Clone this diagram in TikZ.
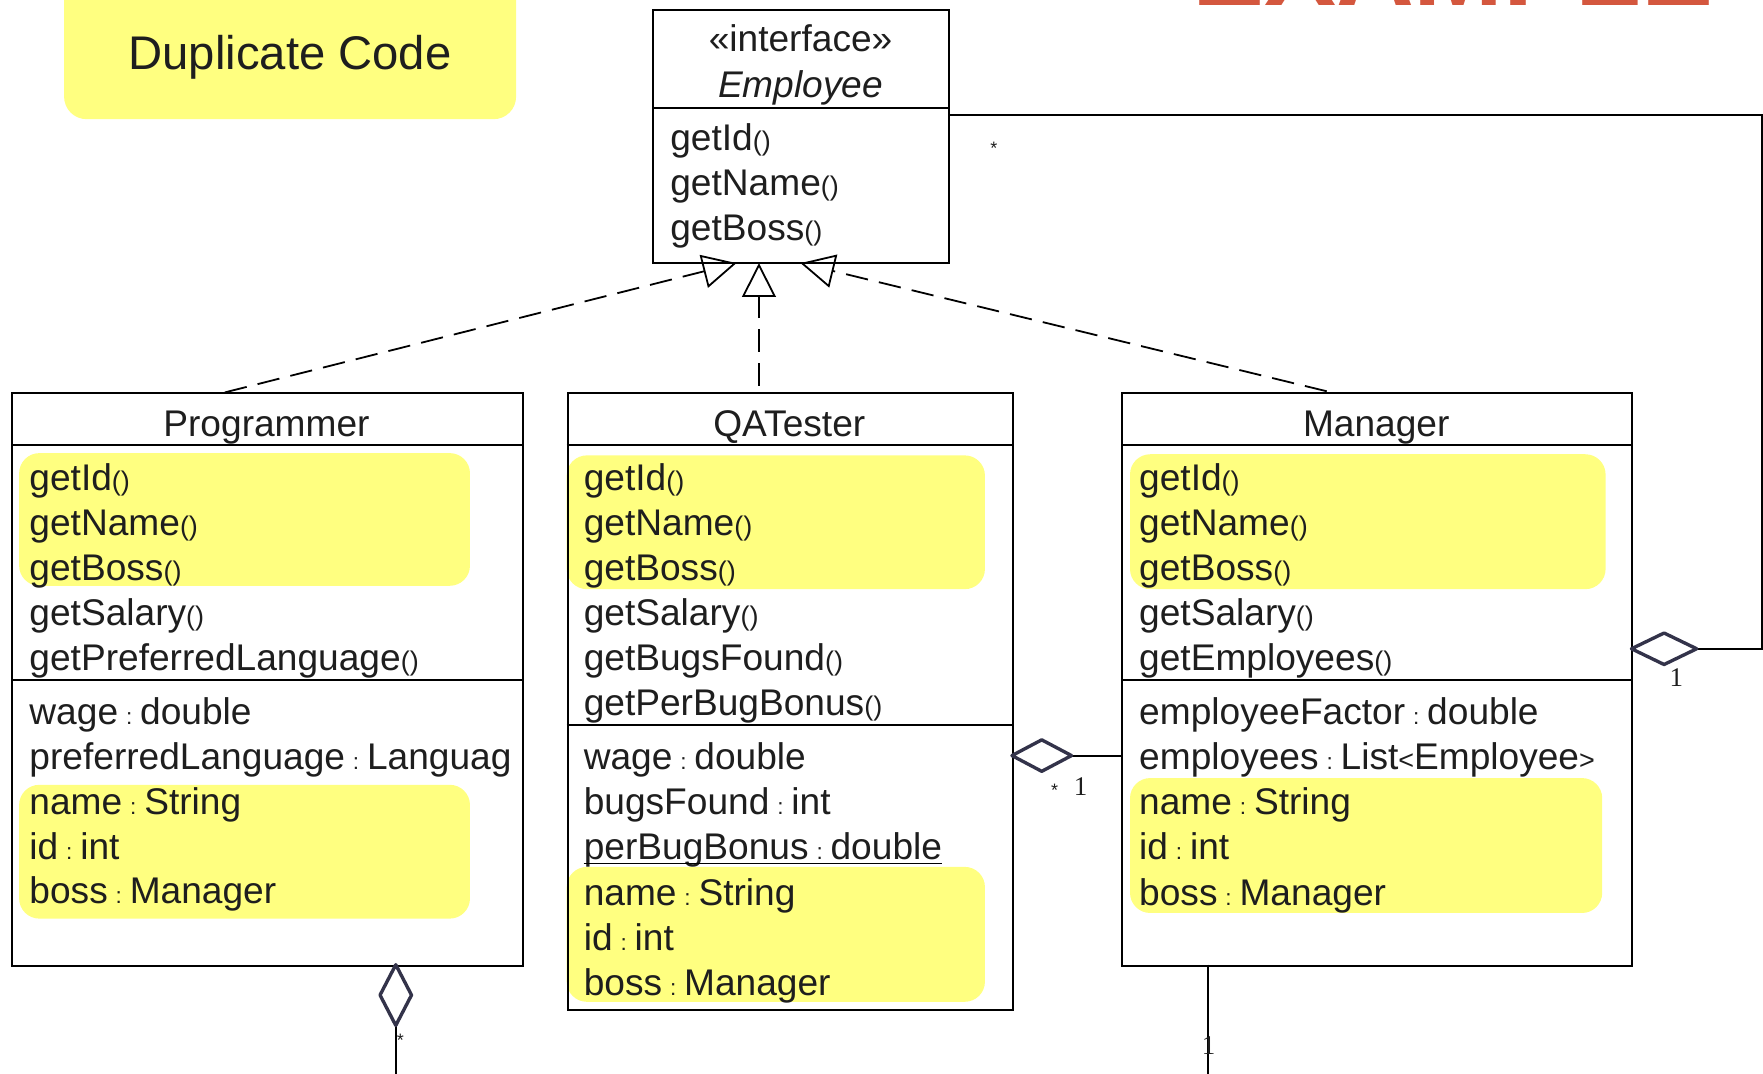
\documentclass[tikz,border=0pt]{standalone}
\usepackage{fontspec}
\setmainfont{Liberation Sans}
\newfontfamily\serifone{Liberation Serif}
\usetikzlibrary{arrows.meta}
\definecolor{hl}{HTML}{FFFF80}
\definecolor{ink}{HTML}{1E1E1E}
\definecolor{dia}{HTML}{33334A}
\definecolor{titlered}{HTML}{D4573E}
\newcommand\pp{{\fontsize{24}{24}\selectfont()}}
\newcommand\cc{\hspace{7pt}{\fontsize{20}{20}\selectfont:}\hspace{7pt}}
\newcommand\lt{{\fontsize{24}{24}\selectfont<}}
\newcommand\gt{{\fontsize{24}{24}\selectfont>}}
\begin{document}
\begin{tikzpicture}[x=1pt,y=-1pt,
  member/.style={anchor=base west, inner sep=0pt, font=\fontsize{33}{33}\selectfont, text=ink},
  ctitle/.style={anchor=base, inner sep=0pt, font=\fontsize{33}{33}\selectfont, text=ink},
  umlbox/.style={draw=black, line width=1.8pt, anchor=north west, inner sep=0pt},
  divider/.style={draw=black, line width=1.8pt},
  hlbox/.style={fill=hl, rounded corners=18pt},
  dep/.style={draw=black, line width=1.6pt, dash pattern=on 20pt off 10pt},
  realtip/.style={-{Triangle[open, length=30pt, width=30pt, line width=1.6pt]}},
  conn/.style={draw=black, line width=1.8pt},
  agg/.style={draw=dia, line width=3pt, fill=white, line join=round},
  mult/.style={inner sep=0pt, font=\serifone\fontsize{24}{24}\selectfont, text=ink},
  star/.style={inner sep=0pt, font=\fontsize{16}{16}\selectfont, text=ink}
]
\useasboundingbox[fill=white] (0,0) rectangle (1568,955);

% red title, mostly cut off by the top edge
\node[anchor=base west, inner sep=0pt, text=titlered, font=\bfseries\fontsize{96}{96}\selectfont] (ttl) at (1060,5) {EXAMPLE};

% Duplicate Code label
\fill[hl, rounded corners=20pt] (57,-30) rectangle (459,106);
\node[inner sep=0pt, text=ink, font=\fontsize{42}{42}\selectfont] (dup) at (258,51) {Duplicate Code};

% highlights
\fill[hlbox] (17,403) rectangle (418,521);
\fill[hlbox] (17,698) rectangle (418,817);
\fill[hlbox] (504,405) rectangle (876,524);
\fill[hlbox] (504,771) rectangle (876,891);
\fill[hlbox] (1005,404) rectangle (1428,524);
\fill[hlbox] (1005,692) rectangle (1425,812);

% boxes
\node[umlbox, minimum width=263pt, minimum height=225pt] (emp) at (580,8) {};
\node[umlbox, minimum width=454pt, minimum height=509pt] (prog) at (10,349) {};
\node[umlbox, minimum width=396pt, minimum height=548pt] (qa) at (504,349) {};
\node[umlbox, minimum width=454pt, minimum height=509pt] (mgr) at (997,349) {};

% dividers
\draw[divider] (580,96) -- (843,96);
\draw[divider] (10,396) -- (464,396);
\draw[divider] (10,605) -- (464,605);
\draw[divider] (504,396) -- (900,396);
\draw[divider] (504,645) -- (900,645);
\draw[divider] (997,396) -- (1451,396);
\draw[divider] (997,605) -- (1451,605);

% Employee
\node[ctitle] (e0) at (712,46) {«interface»};
\node[ctitle, font=\itshape\fontsize{33}{33}\selectfont] (e1) at (712,87) {Employee};
\node[member] (e2) at (596,134) {getId\pp};
\node[member] (e3) at (596,174) {getName\pp};
\node[member] (e4) at (596,214) {getBoss\pp};

% Programmer
\node[ctitle] (p0) at (237,388) {Programmer};
\node[member] (p1) at (26,436) {getId\pp};
\node[member] (p2) at (26,476) {getName\pp};
\node[member] (p3) at (26,516) {getBoss\pp};
\node[member] (p4) at (26,556) {getSalary\pp};
\node[member] (p5) at (26,596) {getPreferredLanguage\pp};
\node[member] (p6) at (26,644) {wage\cc double};
\node[member] (p7) at (26,684) {preferredLanguage\cc Languag};
\node[member] (p8) at (26,724) {name\cc String};
\node[member] (p9) at (26,764) {id\cc int};
\node[member] (p10) at (26,804) {boss\cc Manager};

% QATester
\node[ctitle] (q0) at (702,388) {QATester};
\node[member] (q1) at (519,436) {getId\pp};
\node[member] (q2) at (519,476) {getName\pp};
\node[member] (q3) at (519,516) {getBoss\pp};
\node[member] (q4) at (519,556) {getSalary\pp};
\node[member] (q5) at (519,596) {getBugsFound\pp};
\node[member] (q6) at (519,636) {getPerBugBonus\pp};
\node[member] (q7) at (519,684) {wage\cc double};
\node[member] (q8) at (519,724) {bugsFound\cc int};
\node[member] (q9) at (519,764) {perBugBonus\cc double};
\draw[line width=1.6pt] (q9.base west) ++(0,4) -- ([yshift=-4pt]q9.base east);
\node[member] (q10) at (519,805) {name\cc String};
\node[member] (q11) at (519,845) {id\cc int};
\node[member] (q12) at (519,885) {boss\cc Manager};

% Manager
\node[ctitle] (m0) at (1224,388) {Manager};
\node[member] (m1) at (1013,436) {getId\pp};
\node[member] (m2) at (1013,476) {getName\pp};
\node[member] (m3) at (1013,516) {getBoss\pp};
\node[member] (m4) at (1013,556) {getSalary\pp};
\node[member] (m5) at (1013,596) {getEmployees\pp};
\node[member] (m6) at (1013,644) {employeeFactor\cc double};
\node[member] (m7) at (1013,684) {employees\cc List\lt Employee\gt};
\node[member] (m8) at (1013,724) {name\cc String};
\node[member] (m9) at (1013,764) {id\cc int};
\node[member] (m10) at (1013,805) {boss\cc Manager};

% realizations
\coordinate (tipL) at (655,234);
\coordinate (tipM) at (675,234);
\coordinate (tipR) at (712,234);
\coordinate (srcL) at (200,349);
\coordinate (srcM) at (675,343);
\coordinate (srcR) at (1180,348);
\draw[dep, realtip] (srcL) -- (tipL);
\draw[dep, realtip] (srcM) -- (tipM);
\draw[dep, realtip] (srcR) -- (tipR);

% aggregation QATester - Manager
\coordinate (dqa) at (900,672);
\coordinate (dqb) at (953,672);
\draw[conn] (dqb) -- (mgr.west |- dqb);
\draw[agg] (dqa) -- (926.5,658) -- (dqb) -- (926.5,686) -- cycle;
\node[star] (s1) at (938,703) {*};
\node[mult] (n1) at (961,700) {1};

% aggregation Manager - Employee
\coordinate (dma) at (1451,577);
\coordinate (dmb) at (1509,577);
\coordinate (c1) at (1567,577);
\coordinate (c2) at (1567,102);
\draw[conn] (dmb) -- (c1) -- (c2) -- (emp.east |- c2);
\draw[agg] (dma) -- (1480,563) -- (dmb) -- (1480,591) -- cycle;
\node[mult] (n2) at (1491,603) {1};
\node[star] (s2) at (884,132) {*};

% aggregation at Programmer bottom
\coordinate (dpa) at (352,858);
\coordinate (dpb) at (352,912);
\coordinate (dpe) at (352,960);
\draw[conn] (dpb) -- (dpe);
\draw[agg] (dpa) -- (366,885) -- (dpb) -- (338,885) -- cycle;
\node[star] (s3) at (356,925) {*};

% Manager bottom association
\coordinate (mb) at (1074,858);
\coordinate (me) at (1074,960);
\draw[conn] (mb) -- (me);
\node[mult] (n3) at (1075,930) {1};
\end{tikzpicture}
\end{document}
